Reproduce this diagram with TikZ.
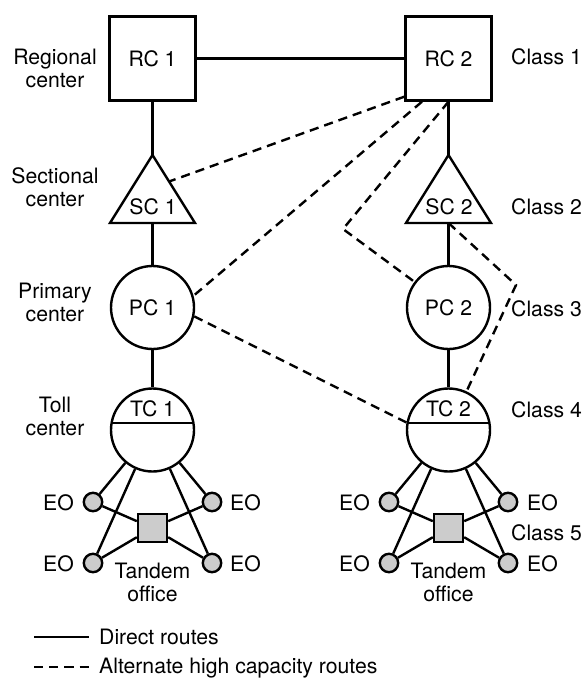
\documentclass[tikz,border=0pt]{standalone}
\usepackage{fontspec}
\setmainfont{TeX Gyre Heros}
\usetikzlibrary{calc}
\definecolor{eogray}{gray}{0.8}
\begin{document}
\begin{tikzpicture}[x=0.5pt,y=-0.5pt,line width=1.2pt,
  every node/.style={font=\fontsize{10.6pt}{11.5pt}\selectfont},
  txt/.style={inner sep=0pt,align=center},
  box/.style={draw,rectangle,minimum width=43pt,minimum height=42pt,inner sep=0pt},
  pcirc/.style={draw,circle,minimum size=41.5pt,inner sep=0pt},
  tcirc/.style={draw,circle,minimum size=41.5pt,inner sep=0pt,
    path picture={\draw ([yshift=3.5pt]path picture bounding box.west) -- ([yshift=3.5pt]path picture bounding box.east);}},
  eo/.style={draw,circle,fill=eogray,minimum size=9.2pt,inner sep=0pt},
  tandem/.style={draw,rectangle,fill=eogray,minimum width=14.5pt,minimum height=14pt,inner sep=0pt},
  alt/.style={dash pattern=on 4.6pt off 3pt}]
\useasboundingbox (0,0) rectangle (587,678);

% ---------- left column ----------
\node[box] (RC1) at (152.5,58.5) {RC 1};
\coordinate (SC1a) at (152.5,155);
\coordinate (SC1bl) at (110,223);
\coordinate (SC1br) at (195,223);
\coordinate (SC1b) at (152.5,223);
\draw (SC1a) -- (SC1br) -- (SC1bl) -- cycle;
\node[txt] (SC1) at (153,207) {SC 1};
\node[pcirc] (PC1) at (152.5,307.5) {PC 1};
\node[tcirc] (TC1) at (152.5,430) {};
\node[txt] (TC1t) at (152.5,409) {TC 1};
\node[eo] (EO1a) at (93,502) {};
\node[eo] (EO1b) at (212,502) {};
\node[eo] (EO1c) at (93,563) {};
\node[eo] (EO1d) at (212,563) {};
\node[tandem] (TO1) at (152.5,528) {};
\node[txt] (TO1t) at (152.5,582) {Tandem\\office};
\node[txt,anchor=east] (EO1at) at (75,503) {EO};
\node[txt,anchor=west] (EO1bt) at (229,503) {EO};
\node[txt,anchor=east] (EO1ct) at (75,564) {EO};
\node[txt,anchor=west] (EO1dt) at (229,564) {EO};

% ---------- right column ----------
\node[box] (RC2) at (448.5,58.5) {RC 2};
\coordinate (SC2a) at (448.5,155);
\coordinate (SC2bl) at (406,223);
\coordinate (SC2br) at (491,223);
\coordinate (SC2b) at (448.5,223);
\draw (SC2a) -- (SC2br) -- (SC2bl) -- cycle;
\node[txt] (SC2) at (449,207) {SC 2};
\node[pcirc] (PC2) at (448.5,307.5) {PC 2};
\node[tcirc] (TC2) at (448.5,430) {};
\node[txt] (TC2t) at (448.5,409) {TC 2};
\node[eo] (EO2a) at (389,502) {};
\node[eo] (EO2b) at (508,502) {};
\node[eo] (EO2c) at (389,563) {};
\node[eo] (EO2d) at (508,563) {};
\node[tandem] (TO2) at (448.5,528) {};
\node[txt] (TO2t) at (448.5,582) {Tandem\\office};
\node[txt,anchor=east] (EO2at) at (371,503) {EO};
\node[txt,anchor=west] (EO2bt) at (526,503) {EO};
\node[txt,anchor=east] (EO2ct) at (371,564) {EO};
\node[txt,anchor=west] (EO2dt) at (526,564) {EO};

% ---------- side labels ----------
\node[txt] (Lrc) at (55,68) {Regional\\center};
\node[txt] (Lsc) at (55,187) {Sectional\\center};
\node[txt] (Lpc) at (55,302) {Primary\\center};
\node[txt] (Ltc) at (55,416) {Toll\\center};
\node[txt,anchor=west] (C1) at (510,56.5) {Class 1};
\node[txt,anchor=west] (C2) at (510,207) {Class 2};
\node[txt,anchor=west] (C3) at (510,309) {Class 3};
\node[txt,anchor=west] (C4) at (510,409.5) {Class 4};
\node[txt,anchor=west] (C5) at (510,532.5) {Class 5};

% ---------- direct routes ----------
\draw (RC1) -- (RC2);
\draw (RC1) -- (SC1a);
\draw (SC1b) -- (PC1);
\draw (PC1) -- (TC1);
\draw (RC2) -- (SC2a);
\draw (SC2b) -- (PC2);
\draw (PC2) -- (TC2);
\foreach \i in {1,2}{
  \draw (EO\i a) -- (TC\i);
  \draw (EO\i b) -- (TC\i);
  \draw (EO\i c) -- (TC\i);
  \draw (EO\i d) -- (TC\i);
  \draw (EO\i a) -- (TO\i);
  \draw (EO\i b) -- (TO\i);
  \draw (EO\i c) -- (TO\i);
  \draw (EO\i d) -- (TO\i);
}

% ---------- alternate routes ----------
\coordinate (SC1r) at ($(SC1a)!0.39!(SC1br)$);
\coordinate (b3) at (343,229);
\coordinate (b4) at (516,285);
\coordinate (TC2l) at ($(TC2.center)+(-41,-7)$);
\draw[alt] ([yshift=2.5pt]RC2.south west) -- (SC1r);
\draw[alt] ($(RC2.south west)!0.2!(RC2.south east)$) -- (PC1.16);
\draw[alt] (RC2.south) -- (b3) -- (PC2.143);
\draw[alt] (SC2b) -- (b4) -- (TC2.65);
\draw[alt] (PC1.-12) -- (TC2l);

% ---------- legend ----------
\coordinate (La1) at (34,637);
\coordinate (La2) at (89,637);
\coordinate (Lb1) at (34,667);
\coordinate (Lb2) at (89,667);
\draw (La1) -- (La2);
\draw[alt] (Lb1) -- (Lb2);
\node[txt,anchor=base west] (Lt1) at (98,644) {Direct routes};
\node[txt,anchor=base west] (Lt2) at (98,673) {Alternate high capacity routes};
\end{tikzpicture}
\end{document}
